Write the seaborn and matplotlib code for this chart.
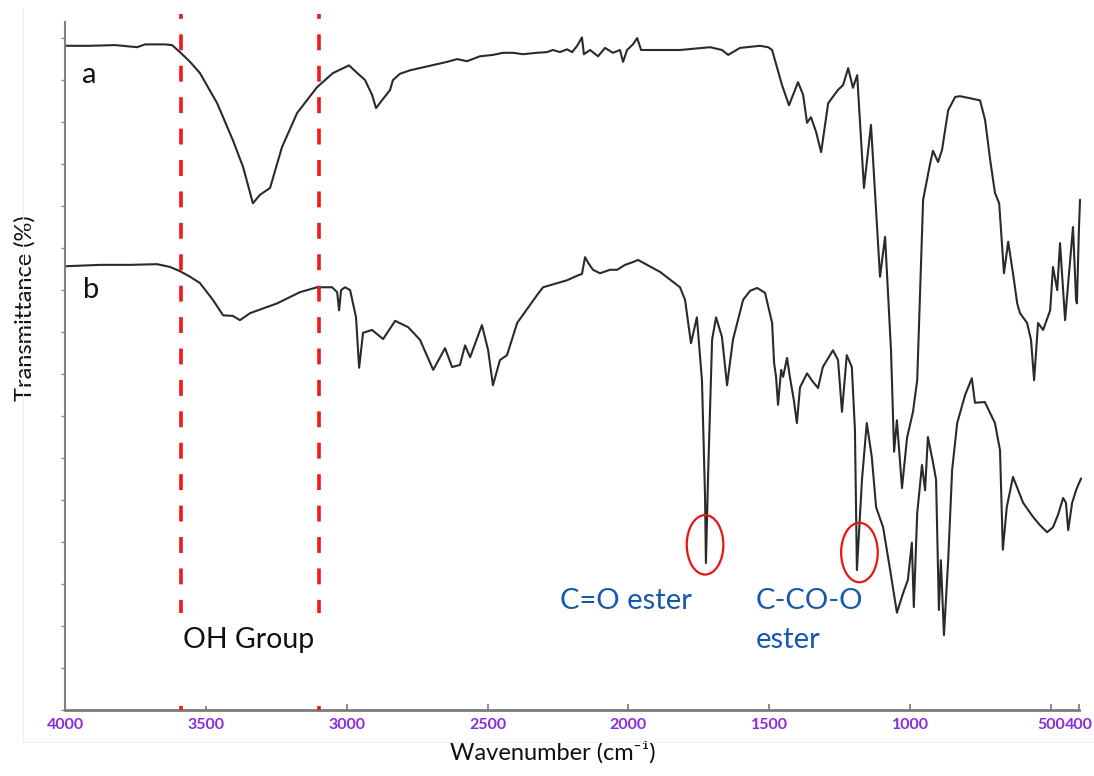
import numpy as np
import matplotlib
matplotlib.use("Agg")
import matplotlib.pyplot as plt
import seaborn as sns
import pandas as pd
from matplotlib.patches import Ellipse, Rectangle
from matplotlib.lines import Line2D

# ---------------- data ----------------
wn_a = [4000, 3911, 3822, 3744, 3716, 3645, 3620, 3592, 3556, 3521,
        3460, 3404, 3368, 3333, 3308, 3272, 3230, 3176, 3105, 3049,
        2992, 2935, 2910, 2896, 2875, 2846, 2836, 2811, 2775, 2644,
        2608, 2573, 2527, 2481, 2445, 2410, 2374, 2325, 2289, 2268,
        2243, 2218, 2200, 2182, 2165, 2158, 2136, 2108, 2083, 2055,
        2030, 2019, 2005, 1984, 1969, 1955, 1923, 1817, 1710, 1668,
        1646, 1604, 1533, 1504, 1490, 1455, 1430, 1398, 1380, 1366,
        1352, 1334, 1316, 1291, 1256, 1238, 1220, 1203, 1188, 1164,
        1139, 1107, 1089, 1068, 1057, 1047, 1029, 1011, 990, 975,
        954, 929, 919, 901, 887, 865, 840, 823, 787, 752,
        734, 716, 699, 684, 667, 652, 635, 620, 610, 585,
        571, 560, 546, 528, 503, 493, 478, 468, 450, 439,
        429, 422, 411, 408, 401, 397]
t_a = [94.9, 94.9, 95.0, 94.7, 95.1, 95.1, 95.0, 94.0, 92.6, 91.0,
       86.7, 81.4, 77.6, 72.4, 73.6, 74.6, 80.4, 85.3, 89.0, 91.0,
       92.1, 90.0, 87.9, 86.0, 87.1, 88.6, 90.0, 90.9, 91.4, 92.6,
       93.0, 92.7, 93.4, 93.6, 93.9, 93.9, 93.7, 93.9, 94.0, 94.3,
       94.0, 94.4, 94.0, 94.9, 96.1, 93.7, 94.3, 93.4, 94.6, 93.9,
       94.3, 92.6, 94.3, 95.1, 96.0, 94.3, 94.3, 94.3, 94.7, 94.3,
       93.6, 94.6, 94.9, 94.7, 94.3, 89.3, 86.4, 89.7, 87.9, 83.9,
       84.7, 82.6, 79.7, 86.7, 88.6, 89.3, 91.7, 88.9, 90.7, 74.6,
       83.6, 61.9, 67.6, 51.4, 36.9, 41.4, 31.7, 38.9, 42.6, 47.1,
       72.9, 78.1, 79.9, 78.3, 80.0, 85.7, 87.6, 87.7, 87.4, 87.1,
       84.3, 78.6, 73.9, 72.4, 62.4, 66.9, 62.4, 58.1, 56.7, 55.3,
       52.9, 47.1, 55.3, 54.3, 57.1, 63.3, 60.0, 66.7, 55.7, 61.0,
       65.7, 69.0, 58.6, 58.1, 68.6, 72.9]

wn_b = [4000, 3876, 3769, 3673, 3627, 3592, 3556, 3521, 3475, 3439,
        3404, 3379, 3343, 3247, 3166, 3105, 3052, 3034, 3027, 3020,
        3006, 2988, 2967, 2956, 2942, 2910, 2871, 2828, 2782, 2740,
        2693, 2651, 2626, 2598, 2580, 2562, 2520, 2498, 2481, 2456,
        2431, 2395, 2324, 2303, 2218, 2179, 2165, 2154, 2143, 2126,
        2101, 2065, 2040, 2012, 1984, 1966, 1888, 1817, 1799, 1778,
        1757, 1739, 1728, 1725, 1717, 1703, 1689, 1668, 1650, 1629,
        1593, 1568, 1543, 1515, 1490, 1483, 1476, 1469, 1458, 1451,
        1437, 1427, 1413, 1402, 1391, 1366, 1349, 1327, 1310, 1274,
        1256, 1242, 1225, 1207, 1196, 1189, 1171, 1154, 1136, 1121,
        1096, 1071, 1047, 1025, 1008, 994, 987, 975, 958, 947,
        937, 919, 908, 898, 891, 880, 865, 851, 833, 805,
        781, 770, 735, 699, 681, 671, 657, 635, 599, 564,
        539, 514, 493, 475, 457, 447, 439, 425, 411, 404, 393]
t_b = [63.4, 63.6, 63.6, 63.7, 63.3, 62.7, 61.9, 61.0, 58.6, 56.4,
       56.3, 55.7, 56.7, 58.1, 59.7, 60.4, 60.4, 59.7, 57.1, 60.0,
       60.4, 60.0, 56.1, 48.9, 53.9, 54.3, 53.0, 55.6, 54.7, 52.9,
       48.6, 51.7, 49.0, 49.3, 52.1, 50.4, 55.0, 51.4, 46.4, 50.0,
       50.7, 55.3, 59.3, 60.4, 61.4, 62.1, 62.3, 64.7, 63.9, 62.9,
       62.4, 62.9, 62.9, 63.6, 64.0, 64.3, 62.6, 60.4, 58.6, 52.4,
       56.1, 47.1, 30.4, 21.0, 33.9, 52.9, 56.1, 53.3, 46.4, 52.9,
       58.6, 59.9, 60.3, 59.6, 55.3, 49.6, 47.6, 43.6, 48.6, 47.6,
       50.3, 47.6, 44.3, 41.0, 46.1, 48.1, 47.1, 46.0, 49.0, 51.4,
       50.0, 42.6, 50.7, 49.0, 40.0, 20.0, 32.9, 41.0, 36.1, 29.0,
       26.1, 20.0, 13.9, 16.7, 18.6, 23.9, 14.7, 28.1, 35.0, 31.4,
       39.0, 35.4, 32.9, 14.3, 21.4, 10.7, 21.4, 34.3, 41.0, 45.0,
       47.4, 43.9, 44.0, 41.0, 37.1, 22.9, 29.0, 33.3, 29.6, 27.6,
       26.4, 25.4, 26.1, 27.9, 30.3, 29.6, 25.7, 29.6, 31.4, 32.1, 33.1]

x_ticks = [4000, 3500, 3000, 2500, 2000, 1500, 1000, 500, 400]
x_tick_labels = ["4000", "3500", "3000", "2500", "2000", "1500", "1000", "500", "400"]
oh_band = [3590, 3100]
peak_co = 1728
peak_cco = 1180

# ---------------- figure ----------------
sns.set_theme(style="white")
plt.rcParams['font.family'] = ['Lato', 'DejaVu Sans']

W, H = 1094, 776
fig = plt.figure(figsize=(W / 100, H / 100), dpi=100)
ax = fig.add_axes([65 / W, 66 / H, 1017 / W, 688 / H])

df = pd.concat([
    pd.DataFrame({"Wavenumber": wn_a, "Transmittance": t_a, "sample": "a"}),
    pd.DataFrame({"Wavenumber": wn_b, "Transmittance": t_b, "sample": "b"}),
])
for s in ["a", "b"]:
    sns.lineplot(data=df[df["sample"] == s], x="Wavenumber", y="Transmittance",
                 sort=False, estimator=None, color="#2a2a2a", linewidth=1.5,
                 solid_joinstyle="round", ax=ax)

ax.set_xlim(4000, 390)
ax.set_ylim(0, 98.3)

# OH band dashed lines
for xv in oh_band:
    ax.plot([xv, xv], [0, 99.5], color="#f01818", lw=2.6, ls=(0, (4.4, 4.3)),
            clip_on=False, zorder=3)
ax.add_patch(Rectangle((3625, 0.6), 3075 - 3625, 13.3, facecolor="white",
                       edgecolor="none", zorder=4))
ax.text(3581, 8.9, "OH Group", fontsize=20.5, color="#111111", ha="left",
        va="baseline", zorder=5)

# curve labels
ax.text(3940, 89.6, "a", fontsize=21, color="#111111", ha="left", va="baseline")
ax.text(3936, 58.9, "b", fontsize=21, color="#111111", ha="left", va="baseline")

# marked ester peaks
for xc, yc in [(peak_co, 23.6), (peak_cco, 22.5)]:
    ax.add_patch(Ellipse((xc, yc), width=130, height=8.5, fill=False,
                         edgecolor="#e81515", lw=1.6, zorder=5))
ax.text(2243, 14.4, "C=O ester", fontsize=21, color="#1558b0", ha="left", va="baseline")
ax.text(1547, 14.4, "C-CO-O", fontsize=21, color="#1558b0", ha="left", va="baseline")
ax.text(1547, 8.9, "ester", fontsize=21, color="#1558b0", ha="left", va="baseline")

# axes styling
for side in ["top", "right"]:
    ax.spines[side].set_visible(False)
ax.spines["left"].set_color("#808080")
ax.spines["left"].set_linewidth(1.5)
ax.spines["bottom"].set_color("#7a7a7a")
ax.spines["bottom"].set_linewidth(2)
ax.spines["bottom"].set_bounds(4000, 400)

ax.set_xticks(x_ticks)
ax.set_xticklabels(x_tick_labels)
ax.tick_params(axis="x", bottom=True, direction="in", length=4, width=1.2,
               color="#777777", labelcolor="#8a2be2", labelsize=11.5, pad=6)
for lab in ax.get_xticklabels():
    lab.set_fontweight("bold")
ax.set_yticks(np.arange(0, 97, 6))
ax.set_yticklabels([])
ax.tick_params(axis="y", left=True, direction="out", length=3, width=1,
               color="#8a8a8a")

ax.set_xlabel("Wavenumber (cm\u207b\u00b9)", fontsize=17, color="#111111",
              va="center", ha="center")
ax.xaxis.set_label_coords((553 - 65) / 1017, (710 - 752) / 688)
ax.set_ylabel("Transmittance (%)", fontsize=17, color="#111111",
              va="center", ha="center")
ax.yaxis.set_label_coords((25 - 65) / 1017, (710 - 308) / 688)

# faint frame of the original picture
fig.add_artist(Line2D([23 / W, 23 / W], [1 - 8 / H, 1 - 742 / H],
                      transform=fig.transFigure, color="#eeeeee", lw=0.8))
fig.add_artist(Line2D([23 / W, 1], [1 - 742 / H, 1 - 742 / H],
                      transform=fig.transFigure, color="#eeeeee", lw=0.8))

fig.savefig("out.png", dpi=100, facecolor="white")
